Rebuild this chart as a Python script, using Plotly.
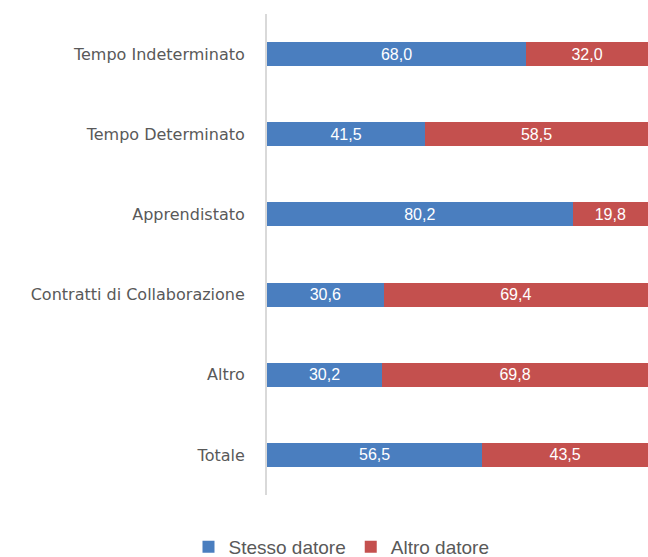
import plotly.graph_objects as go

categories = ['Tempo Indeterminato', 'Tempo Determinato', 'Apprendistato',
              'Contratti di Collaborazione', 'Altro', 'Totale']
stesso_datore = [68.0, 41.5, 80.2, 30.6, 30.2, 56.5]
altro_datore = [32.0, 58.5, 19.8, 69.4, 69.8, 43.5]

label_font = 'DejaVu Sans, sans-serif'
font_family = 'Liberation Sans, Arial, sans-serif'

fig = go.Figure()

for vals, name, color in zip([stesso_datore, altro_datore],
                             ['Stesso datore', 'Altro datore'],
                             ['#4A7EBF', '#C4504E']):
    fig.add_trace(go.Bar(
        y=categories,
        x=vals,
        name=name,
        orientation='h',
        marker=dict(color=color, line=dict(width=0)),
        texttemplate='%{x:.1f}',
        textposition='inside',
        insidetextanchor='middle',
        textfont=dict(color='white', size=16, family=font_family),
        hoverinfo='skip'
    ))

fig.update_layout(
    barmode='stack',
    bargap=0.7,
    separators=',.',
    width=648,
    height=557,
    margin=dict(l=267, r=0, t=14, b=62),
    plot_bgcolor='white',
    paper_bgcolor='white',
    font=dict(family=font_family, color='#595959', size=16),
    xaxis=dict(range=[0, 100], visible=False, fixedrange=True),
    yaxis=dict(
        autorange='reversed',
        showline=True,
        linecolor='#D9D9D9',
        linewidth=2,
        ticks='',
        ticklabelstandoff=17,
        showgrid=False,
        tickfont=dict(size=16, color='#595959', family=label_font)
    ),
    legend=dict(
        orientation='h',
        xref='container',
        x=0.527,
        xanchor='center',
        yref='container',
        y=0.018,
        yanchor='middle',
        font=dict(size=19, color='#595959'),
        itemwidth=30,
        traceorder='normal'
    ),
    showlegend=True
)

# drop the page's default body margin so the figure fills the window exactly
fig.write_html("out.html",
               config={'displayModeBar': False},
               post_script="document.body.style.margin='0';"
                           "document.body.style.overflow='hidden';")
